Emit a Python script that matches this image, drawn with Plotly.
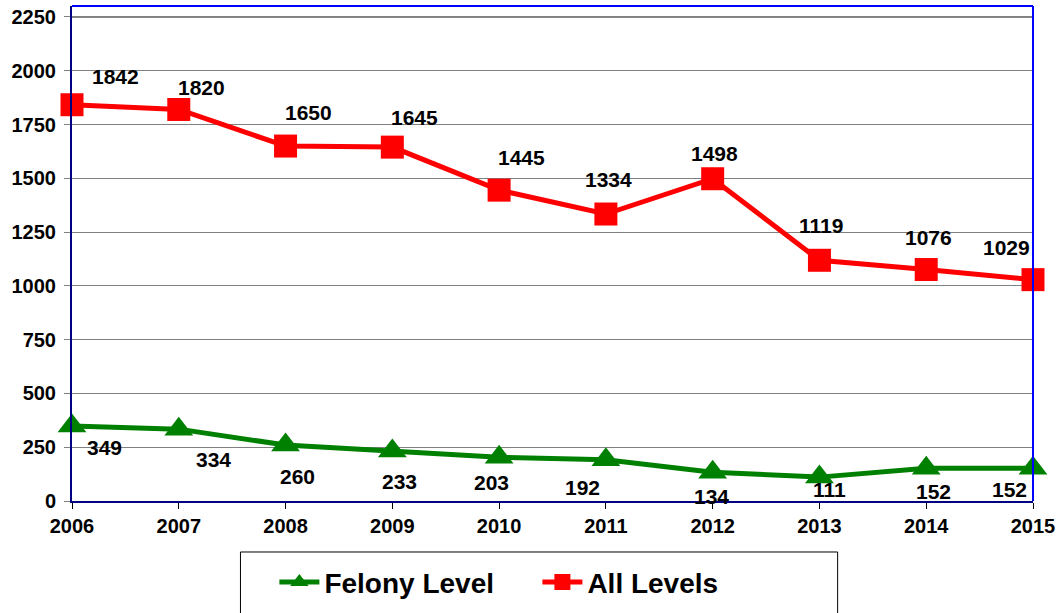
import plotly.graph_objects as go

years = [2006, 2007, 2008, 2009, 2010, 2011, 2012, 2013, 2014, 2015]
felony = [349, 334, 260, 233, 203, 192, 134, 111, 152, 152]
all_levels = [1842, 1820, 1650, 1645, 1445, 1334, 1498, 1119, 1076, 1029]
y_ticks = [0, 250, 500, 750, 1000, 1250, 1500, 1750, 2000, 2250]

# label offsets in pixels (dx, dy with dy positive = up)
all_off = [(43, 28), (23, 22), (23, 34), (22, 30), (22, 33), (3, 35), (2, 25), (2, 35), (2, 32), (-27, 32)]
fel_off = [(32, -22), (35, -30), (12, -31), (7, -31), (-8, -25), (-23, -28), (-1, -24), (10, -12), (7, -23), (-24, -21)]

FONT = "Liberation Sans, Arial, sans-serif"
GREEN = "#008000"
RED = "#FF0000"

fig = go.Figure()
fig.add_trace(go.Scatter(
    x=years, y=felony, name="<b>Felony Level</b>", mode="lines+markers",
    line=dict(color=GREEN, width=5),
    marker=dict(symbol="triangle-up", size=25, color=GREEN),
    cliponaxis=False,
))
fig.add_trace(go.Scatter(
    x=years, y=all_levels, name="<b>All Levels</b>", mode="lines+markers",
    line=dict(color=RED, width=5),
    marker=dict(symbol="square", size=23, color=RED),
    cliponaxis=False,
))

annotations = []
for x, y, (dx, dy) in zip(years, all_levels, all_off):
    annotations.append(dict(x=x, y=y, text=f"<b>{y}</b>", showarrow=False,
                            xshift=dx, yshift=dy,
                            font=dict(family=FONT, size=21, color="black")))
for x, y, (dx, dy) in zip(years, felony, fel_off):
    annotations.append(dict(x=x, y=y, text=f"<b>{y}</b>", showarrow=False,
                            xshift=dx, yshift=dy,
                            font=dict(family=FONT, size=21, color="black")))

shapes = [
    dict(type="line", xref="paper", yref="y", x0=0, x1=1, y0=2250, y1=2250,
         line=dict(color="black", width=1), layer="below"),
    dict(type="line", xref="paper", yref="paper", x0=0, x1=1, y0=1, y1=1,
         line=dict(color="#0000FF", width=2)),
    dict(type="line", xref="paper", yref="paper", x0=1, x1=1, y0=0, y1=1,
         line=dict(color="#0000FF", width=2)),
    dict(type="rect", xref="paper", yref="paper", x0=0.1753, x1=0.7967, y0=-0.103, y1=-0.26,
         line=dict(color="black", width=1), fillcolor="rgba(0,0,0,0)"),
]

fig.update_layout(
    width=1061, height=613,
    margin=dict(l=72, r=25, t=6, b=112),
    paper_bgcolor="white", plot_bgcolor="white",
    font=dict(family=FONT, color="black"),
    showlegend=True,
    legend=dict(orientation="h", x=0.2106, xanchor="left", y=-0.164, yanchor="middle",
                font=dict(family=FONT, size=28, color="black"),
                bgcolor="rgba(0,0,0,0)", borderwidth=0,
                itemwidth=40, entrywidth=208, entrywidthmode="pixels"),
    annotations=annotations,
    shapes=shapes,
)
fig.update_xaxes(
    range=[2006, 2015], tickvals=years, ticktext=[f"<b>{y}</b>" for y in years],
    showgrid=False, zeroline=False,
    showline=True, linecolor="#000080", linewidth=2,
    ticks="outside", ticklen=6, tickcolor="black",
    tickfont=dict(family=FONT, size=20, color="black"),
)
fig.update_yaxes(
    range=[0, 2301], tickvals=y_ticks, ticktext=[f"<b>{v}</b>" for v in y_ticks],
    showgrid=True, gridcolor="#808080", gridwidth=1, zeroline=False,
    showline=True, linecolor="#000080", linewidth=2,
    ticks="outside", ticklen=6, tickcolor="#808080",
    ticklabelstandoff=4,
    tickfont=dict(family=FONT, size=20, color="black"),
)

fig.write_html("out.html", config={"displayModeBar": False},
               post_script="document.body.style.margin='0';")
